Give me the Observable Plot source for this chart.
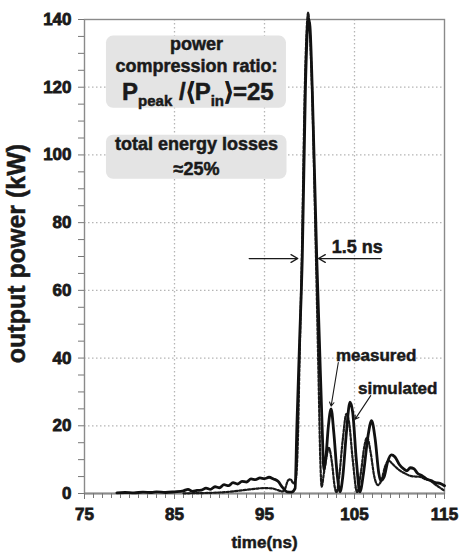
<!DOCTYPE html>
<html>
<head>
<meta charset="utf-8">
<script src="https://cdn.jsdelivr.net/npm/d3@7"></script>
<script src="https://cdn.jsdelivr.net/npm/@observablehq/plot@0.6"></script>
<style>
  html, body { margin: 0; padding: 0; background: #fff; }
  #chart svg { display: block; }
  #chart text { font-weight: 700; fill: #1a1a1a; stroke: #1a1a1a; stroke-width: 0.5px; }
  #chart .ticklab text { stroke-width: 0.8px; }
</style>
</head>
<body>
<div id="chart"></div>
<script>
// Output pulse: measured trace (solid) and simulation (dashed), time in ns, power in kW
const tMeasured = [
  78.6, 79.5, 80.5, 81.5, 82.5, 83, 84, 85, 86, 86.5, 87, 87.5, 88, 88.5, 89, 89.5,
  90, 90.5, 91, 91.5, 92, 92.5, 93, 93.5, 94, 94.5, 95, 95.5, 96, 96.5, 97, 97.5,
  98, 98.4, 98.6, 98.9, 99.2, 99.55, 99.75, 99.9, 100.05, 100.3, 100.8, 101.1, 101.4, 101.6,
  101.8, 102.1, 102.4, 102.7, 103.1, 103.4, 103.7, 104.1, 104.5, 104.8, 105.2, 105.6,
  106.0, 106.5, 106.9, 107.3, 107.7, 107.9, 108.3, 108.7, 109.1, 109.5, 110.0, 110.5,
  110.8, 111.2, 111.6, 112.0, 112.5, 113.0, 113.5, 114.0, 114.5, 115
];
const vMeasured = [
  0.2, 0.3, 0.2, 0.4, 0.3, 0.5, 0.3, 0.5, 0.8, 1.2, 0.6, 0.9, 1.0, 1.6, 1.2, 2.0,
  1.7, 2.6, 2.3, 3.2, 2.8, 3.6, 3.4, 4.3, 4.1, 4.6, 4.4, 4.8, 4.3, 3.6, 1.8, 0.5,
  0.4, 1.5, 20, 45, 70, 120, 136, 140, 138, 120, 70, 45, 20, 7,
  10, 20, 25, 18, 5, 0.5, 5, 18, 27, 24, 10, 0.5,
  6, 17, 21.5, 16, 6, 3.8, 5, 9.5, 11.4, 10.8, 8.5, 7.2,
  6.7, 7.6, 7.3, 6.0, 5.3, 4.3, 3.8, 3.2, 3.0, 2.3
];
const tSimulated = [
  86, 87.5, 89, 90, 91, 92, 93, 94, 95, 95.8, 96.5, 97.0, 97.3, 97.6, 97.9, 98.2,
  98.5, 98.7, 98.9, 99.15, 99.5, 99.75, 99.85, 100.0, 100.3, 100.7, 101.0, 101.2, 101.35,
  101.6, 101.9, 102.15, 102.5, 102.8, 103.0, 103.3, 103.7, 104.1, 104.4, 104.8, 105.3,
  105.7, 106.1, 106.4, 106.8, 107.2, 107.6, 108.0, 108.4, 108.8, 109.2, 109.7, 110.1,
  110.7, 111.2, 111.8, 112.3, 112.8, 113.4, 114.0, 114.5, 115
];
const vSimulated = [
  0.05, 0.1, 0.2, 0.3, 0.5, 0.8, 1.1, 1.4, 1.6, 1.5, 1.0, 0.6, 1.5, 3.8, 4.2, 3.0,
  4.5, 15, 40, 70, 122, 140, 142, 138, 118, 72, 35, 10, 2,
  6, 11, 13.5, 9, 2, 0.3, 5, 16, 23.5, 21, 10, 0.3,
  6, 14, 16.6, 12, 5, 2.5, 4, 8, 9.7, 8.8, 7.5, 6.7,
  5.8, 5.2, 5.0, 4.9, 4.3, 3.8, 2.6, 1.7, 0.8
];

// Axis ticks
const xTickLabels = [75, 85, 95, 105, 115];
const xMinorTicks = d3.range(75, 116, 1);
const yTickLabels = [0, 20, 40, 60, 80, 100, 120, 140];
const yMinorTicks = d3.range(0, 141, 5);
const xGrid = [85, 95, 105];
const yGrid = [20, 40, 60, 80, 100, 120];

// Annotation text
const ratioTitle = ["power", "compression ratio:"];
const lossText = ["total energy losses", "≈25%"];
const widthText = "1.5 ns";
const seriesNames = ["measured", "simulated"];

const measured = tMeasured.map((t, i) => ({t, v: vMeasured[i]}));
const simulated = tSimulated.map((t, i) => ({t, v: vSimulated[i]}));

const ink = "#1a1a1a";
const font = "Liberation Sans, Arial, Helvetica, sans-serif";

const chart = Plot.plot({
  width: 461,
  height: 552,
  marginLeft: 84,
  marginRight: 17,
  marginTop: 19,
  marginBottom: 59,
  style: {fontFamily: font, background: "#fff", color: ink},
  x: {domain: [75, 115], label: null},
  y: {domain: [0, 140], label: null},
  marks: [
    // dotted grid
    Plot.ruleX(xGrid, {stroke: "#b5b5b5", strokeWidth: 1.3, strokeDasharray: "1.5,2.5"}),
    Plot.ruleY(yGrid, {stroke: "#b5b5b5", strokeWidth: 1.3, strokeDasharray: "1.5,2.5"}),

    // annotation boxes
    Plot.rect([{}], {x1: 77.44, x2: 97.44, y1: 113.8, y2: 135.1, fill: "#e4e4e4", rx: 7}),
    Plot.rect([{}], {x1: 77.44, x2: 97.5, y1: 92.8, y2: 105.8, fill: "#e4e4e4", rx: 7}),

    // frame, axis lines and ticks
    Plot.frame({stroke: "#8a8a8a", strokeWidth: 1.4}),
    Plot.ruleY([0], {stroke: "#8a8a8a", strokeWidth: 2}),
    Plot.axisX(xMinorTicks, {tickSize: 5, stroke: "#777", tickFormat: () => "", label: null}),
    Plot.axisX(xTickLabels, {tickSize: 6, stroke: "#777", tickFormat: () => "", label: null}),
    Plot.axisY(yMinorTicks, {tickSize: 6, stroke: "#777", tickFormat: () => "", label: null}),

    // tick labels
    Plot.text(xTickLabels, {x: d => d, frameAnchor: "bottom", lineAnchor: "top", dy: 14, fontSize: 17, fill: ink, className: "ticklab"}),
    Plot.text(yTickLabels, {y: d => d, frameAnchor: "left", textAnchor: "end", dx: -13, fontSize: 17, fill: ink, className: "ticklab"}),

    // axis titles
    Plot.text(["output power (kW)"], {frameAnchor: "left", textAnchor: "middle", rotate: -90, dx: -68, dy: -3, fontSize: 25, fill: ink}),
    Plot.text(["time(ns)"], {frameAnchor: "bottom", lineAnchor: "bottom", dy: 54, fontSize: 17, fill: ink}),

    // traces
    Plot.line(simulated, {x: "t", y: "v", stroke: "#1a1a1a", strokeWidth: 2.2, strokeDasharray: "2.5,1.8", curve: "monotone-x"}),
    Plot.line(measured, {x: "t", y: "v", stroke: "#111", strokeWidth: 2.8, curve: "monotone-x"}),

    // box texts
    Plot.text([ratioTitle[0]], {x: 87.44, y: 132.7, fontSize: 18, fill: ink}),
    Plot.text([ratioTitle[1]], {x: 87.44, y: 126.2, fontSize: 18, fill: ink}),
    Plot.text(["Ppeak /⟨Pin⟩=25"], {x: 87.6, y: 118.5, fontSize: 24, fill: ink, className: "ratio"}),
    Plot.text([lossText[0]], {x: 87.44, y: 103.2, fontSize: 18, fill: ink}),
    Plot.text([lossText[1]], {x: 87.44, y: 95.7, fontSize: 18, fill: ink}),

    // pulse width marker
    Plot.arrow([{}], {x1: 93.3, y1: 69.4, x2: 98.7, y2: 69.4, stroke: ink, strokeWidth: 1.3, headLength: 9}),
    Plot.arrow([{}], {x1: 107.9, y1: 69.4, x2: 101.0, y2: 69.4, stroke: ink, strokeWidth: 1.3, headLength: 9}),
    Plot.text([widthText], {x: 105.3, y: 72.6, fontSize: 18, fill: ink}),

    // series labels with pointers
    Plot.text([seriesNames[0]], {x: 107.4, y: 40.6, fontSize: 17, fill: ink}),
    Plot.text([seriesNames[1]], {x: 109.8, y: 31.1, fontSize: 17, fill: ink}),
    Plot.arrow([{}], {x1: 103.2, y1: 38.7, x2: 102.4, y2: 25.8, stroke: ink, strokeWidth: 1.1, headLength: 6}),
    Plot.arrow([{}], {x1: 106.8, y1: 28.9, x2: 105.05, y2: 21.9, stroke: ink, strokeWidth: 1.1, headLength: 6})
  ]
});

// Subscripts for the compression-ratio formula
d3.select(chart).selectAll(".ratio text").each(function () {
  const el = d3.select(this);
  el.text(null);
  const parts = [
    ["P", 0, 24], ["peak", 6, 15], [" /⟨", -6, 24], ["P", 0, 24], ["in", 6, 15], ["⟩=25", -6, 24]
  ];
  for (const [s, dy, fs] of parts) {
    el.append("tspan").attr("dy", dy).attr("font-size", fs).text(s);
  }
});

document.getElementById("chart").appendChild(chart);
</script>
</body>
</html>
